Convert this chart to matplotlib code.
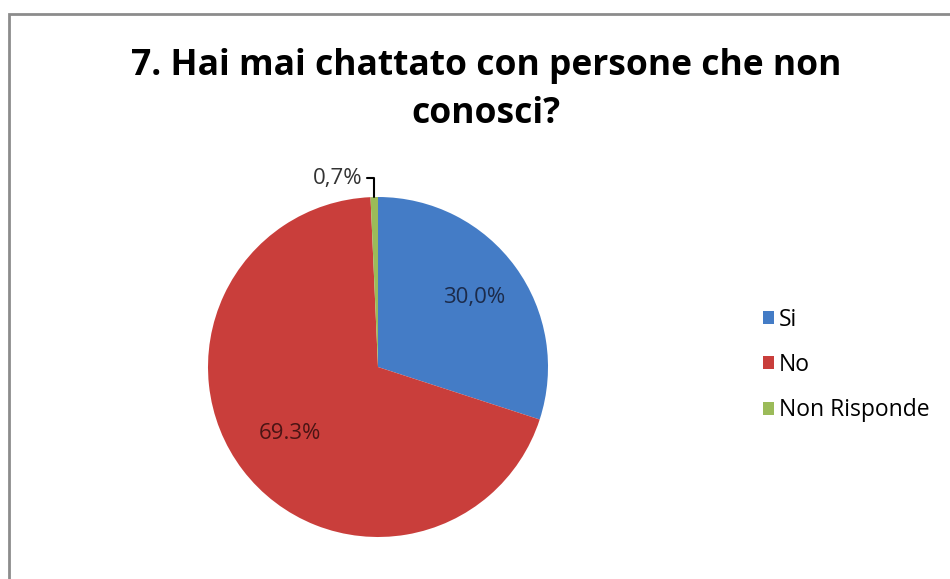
import numpy as np
import matplotlib
matplotlib.use("Agg")
import matplotlib.pyplot as plt
from matplotlib.patches import Rectangle

# Chart data
categories = ["Si", "No", "Non Risponde"]
values = [30.0, 69.3, 0.7]
pct_labels = ["30,0%", "69.3%", "0,7%"]
colors = ["#447CC6", "#C93E3B", "#9BBB59"]
label_colors = ["#1C2B4A", "#4A1414", "#333333"]
title = "7. Hai mai chattato con persone che non\nconosci?"

plt.rcParams["font.family"] = ["Open Sans", "DejaVu Sans"]

W, H = 950, 579
fig = plt.figure(figsize=(W / 100, H / 100), dpi=100)

# outer chart frame (only top and left edges visible in the crop)
frame = Rectangle((9 / W, -0.5), 1.5, 0.5 + 1 - 14 / H, transform=fig.transFigure,
                  fill=False, edgecolor="#8c8c8c", linewidth=2)
fig.patches.append(frame)

fig.text(486 / W, 1 - 90 / H, title, ha="center", va="center",
         fontsize=25.5, fontweight="bold", color="black", linespacing=1.42)

# pie axes: centre (378, 367), radius 170 px
cx, cy, r = 378, 367, 170
ax = fig.add_axes([(cx - r) / W, (H - cy - r) / H, 2 * r / W, 2 * r / H])
wedges, _ = ax.pie(values, colors=colors, startangle=90, counterclock=False,
                   radius=1.0, wedgeprops=dict(linewidth=0))
ax.set_xlim(-1, 1)
ax.set_ylim(-1, 1)
ax.set_aspect("equal")
ax.axis("off")

for i, w in enumerate(wedges):
    mid = np.deg2rad((w.theta1 + w.theta2) / 2)
    if values[i] > 5:
        d = 0.70 if i == 0 else 0.65
        ax.text(d * np.cos(mid), d * np.sin(mid), pct_labels[i], ha="center",
                va="center", fontsize=16, color=label_colors[i])
    else:
        ex, ey = np.cos(mid), np.sin(mid)
        ax.annotate(pct_labels[i], xy=(ex, ey), xytext=(ex - 0.07, ey + 0.11),
                    ha="right", va="center", fontsize=16, color="#333333",
                    annotation_clip=False,
                    arrowprops=dict(arrowstyle="-", color="black", lw=1.5,
                                    shrinkA=1, shrinkB=0,
                                    connectionstyle="angle,angleA=0,angleB=90,rad=0"))

handles = [Rectangle((0, 0), 1, 1, facecolor=c, edgecolor="none") for c in colors]
fig.legend(handles, categories, loc="upper left",
           bbox_to_anchor=(742 / W, 1 - 287 / H), frameon=False,
           fontsize=16.5, handlelength=0.5, handleheight=0.5,
           handletextpad=0.2, labelspacing=0.93)

fig.savefig("out.png", dpi=100, facecolor="white")
